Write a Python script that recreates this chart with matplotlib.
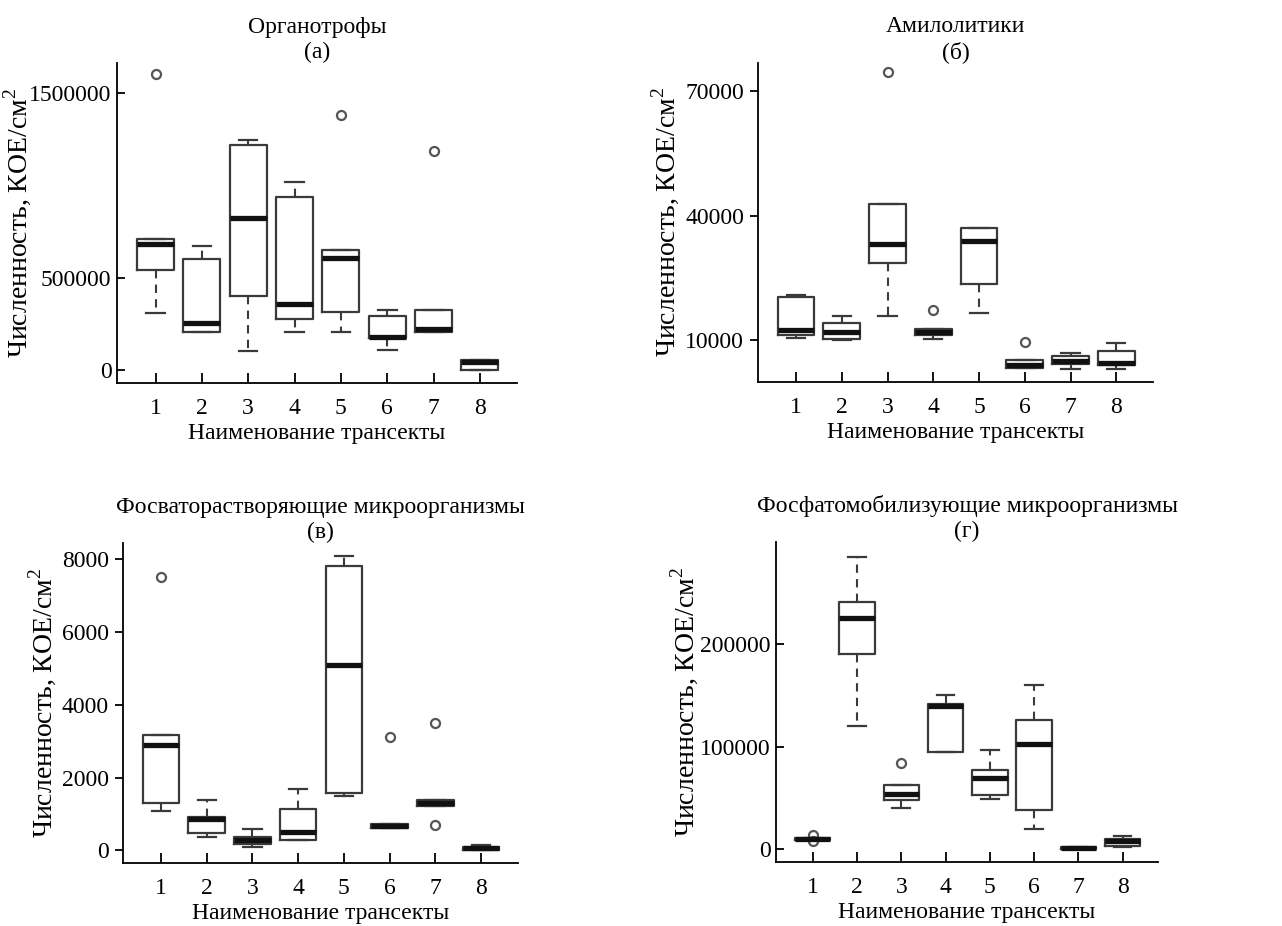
import matplotlib
matplotlib.use("Agg")
import matplotlib.pyplot as plt

plt.rcParams['font.family'] = ['Liberation Serif', 'DejaVu Serif']
plt.rcParams['mathtext.fontset'] = 'custom'
plt.rcParams['mathtext.rm'] = 'Liberation Serif'

positions = [1, 2, 3, 4, 5, 6, 7, 8]
xlabel = "Наименование трансекты"
ylabel = "Численность, КОЕ/см$^2$"

##### (а) Органотрофы
a_title = "Органотрофы\n(а)"
a_whislo = [309e3, 209e3, 103e3, 210e3, 210e3, 112e3, 209e3, 0]
a_q1 = [543e3, 209e3, 403e3, 277e3, 317e3, 173e3, 209e3, 0]
a_med = [683e3, 259e3, 822e3, 358e3, 606e3, 183e3, 223e3, 45e3]
a_q3 = [712e3, 604e3, 1216e3, 935e3, 651e3, 295e3, 327e3, 54e3]
a_whishi = [712e3, 673e3, 1245e3, 1020e3, 651e3, 327e3, 327e3, 54e3]
a_fliers = [[1604e3], [], [], [], [1380e3], [], [1185e3], []]
a_ticks = [0, 500000, 1500000]
a_ticklabels = ["0", "500000", "1500000"]

##### (б) Амилолитики
b_title = "Амилолитики\n(б)"
b_whislo = [10640, 10000, 15940, 10320, 16580, 3340, 3100, 3100]
b_q1 = [11360, 10320, 28610, 11360, 23480, 3340, 4390, 4150]
b_med = [12400, 12000, 33180, 12000, 33900, 3980, 4950, 4550]
b_q3 = [20430, 14170, 42890, 12810, 36950, 5190, 6310, 7350]
b_whishi = [20990, 15940, 42890, 12810, 36950, 5190, 6950, 9360]
b_fliers = [[], [], [74570], [17220], [], [9600], [], []]
b_ticks = [10000, 40000, 70000]
b_ticklabels = ["10000", "40000", "70000"]

##### (в) Фосфаторастворяющие
c_title = "Фосваторастворяющие микроорганизмы\n(в)"
c_whislo = [1071, 357, 92, 293, 1501, 604, 1227, 18]
c_q1 = [1300, 476, 174, 293, 1574, 604, 1227, 18]
c_med = [2902, 860, 293, 494, 5098, 659, 1300, 64]
c_q3 = [3176, 915, 366, 1144, 7817, 723, 1373, 92]
c_whishi = [3176, 1373, 595, 1684, 8092, 723, 1373, 137]
c_fliers = [[7506], [], [], [], [], [3103], [3497, 686], []]
c_ticks = [0, 2000, 4000, 6000, 8000]
c_ticklabels = ["0", "2000", "4000", "6000", "8000"]

##### (г) Фосфатомобилизующие
d_title = "Фосфатомобилизующие микроорганизмы\n(г)"
d_whislo = [8790, 120200, 40390, 95110, 49510, 19870, 650, 2280]
d_q1 = [8790, 190600, 48530, 95110, 52770, 38110, 650, 2930]
d_med = [10100, 225700, 54400, 140070, 69700, 102300, 1630, 8140]
d_q3 = [11070, 241000, 62540, 142000, 77200, 125700, 2280, 10100]
d_whishi = [11070, 285000, 62540, 150200, 96740, 159900, 2280, 13030]
d_fliers = [[13680, 7820], [], [84360], [], [], [], [], []]
d_ticks = [0, 100000, 200000]
d_ticklabels = ["0", "100000", "200000"]


def make_stats(whislo, q1, med, q3, whishi, fliers):
    stats = []
    for i in range(len(med)):
        stats.append(dict(whislo=whislo[i], q1=q1[i], med=med[i], q3=q3[i],
                          whishi=whishi[i], fliers=fliers[i]))
    return stats


def draw_panel(ax, title, stats, ticks, ticklabels, ylim, ytickdir, ylab_x):
    ax.bxp(stats, positions=positions, widths=0.8, showfliers=True,
           boxprops=dict(color='#3a3a3a', linewidth=1.6),
           medianprops=dict(color='#111111', linewidth=3.8, solid_capstyle='butt'),
           whiskerprops=dict(color='#3a3a3a', linewidth=1.5, linestyle=(0, (4, 3))),
           capprops=dict(color='#3a3a3a', linewidth=1.6),
           capwidths=0.4,
           flierprops=dict(marker='o', markerfacecolor='none', markeredgecolor='#555555',
                           markersize=6.5, markeredgewidth=1.6))
    ax.set_xlim(0.17, 8.8)
    ax.set_ylim(*ylim)
    ax.set_yticks(ticks)
    ax.set_yticklabels(ticklabels)
    ax.set_xticks(positions)
    ax.set_xticklabels([str(p) for p in positions])
    ax.spines['top'].set_visible(False)
    ax.spines['right'].set_visible(False)
    ax.spines['left'].set_linewidth(1.3)
    ax.spines['bottom'].set_linewidth(1.3)
    ax.tick_params(axis='x', direction='in', length=7, width=1.3, pad=11, labelsize=17)
    ax.tick_params(axis='y', direction=ytickdir, length=6, width=1.3, pad=4, labelsize=17)
    ax.set_title(title, fontsize=17, pad=1, linespacing=1.25)
    ax.set_xlabel(xlabel, fontsize=17, labelpad=3)
    ax.set_ylabel(ylabel, fontsize=20)
    ax.yaxis.set_label_coords(ylab_x, 0.5)


fig = plt.figure(figsize=(12.82, 9.26), dpi=100)

ax_a = fig.add_axes([0.0913, 0.5864, 0.312, 0.3456])
ax_b = fig.add_axes([0.5913, 0.5875, 0.308, 0.3445])
ax_c = fig.add_axes([0.0959, 0.068, 0.308, 0.3456])
ax_d = fig.add_axes([0.6053, 0.0691, 0.298, 0.3456])

draw_panel(ax_a, a_title, make_stats(a_whislo, a_q1, a_med, a_q3, a_whishi, a_fliers),
           a_ticks, a_ticklabels, (-68000, 1662000), 'in', -0.21)
draw_panel(ax_b, b_title, make_stats(b_whislo, b_q1, b_med, b_q3, b_whishi, b_fliers),
           b_ticks, b_ticklabels, (0, 76700), 'out', -0.195)
draw_panel(ax_c, c_title, make_stats(c_whislo, c_q1, c_med, c_q3, c_whishi, c_fliers),
           c_ticks, c_ticklabels, (-348, 8440), 'out', -0.165)
draw_panel(ax_d, d_title, make_stats(d_whislo, d_q1, d_med, d_q3, d_whishi, d_fliers),
           d_ticks, d_ticklabels, (-12380, 299700), 'in', -0.199)

fig.savefig("out.png", dpi=100)
